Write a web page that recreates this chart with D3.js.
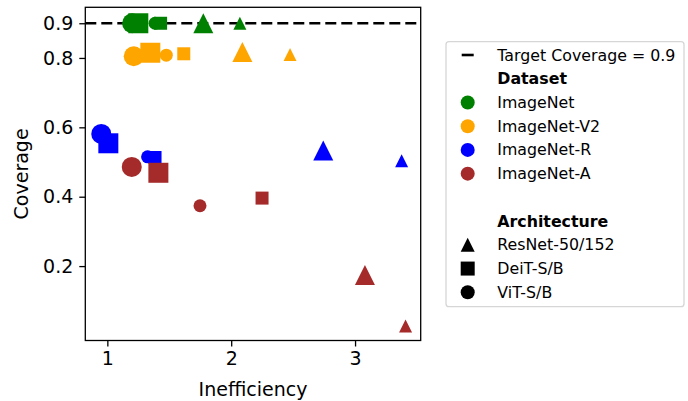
<!DOCTYPE html>
<html>
<head>
<meta charset="utf-8">
<script src="https://cdn.jsdelivr.net/npm/d3@7"></script>
<style>
  body { margin: 0; background: white; }
  text { font-family: "DejaVu Sans", sans-serif; fill: black; }
</style>
</head>
<body>
<div id="graph"></div>
<script>
// data
const datasets = ["ImageNet", "ImageNet-V2", "ImageNet-R", "ImageNet-A"]
const colors = ["green", "orange", "blue", "brown"]
const archs = ["ResNet-50/152", "DeiT-S/B", "ViT-S/B"]
const shapes = ["triangle", "square", "circle"]
const target = 0.9
const xTicks = [1, 2, 3]
const yTicks = [0.2, 0.4, 0.6, 0.8, 0.9]

// one row per model: dataset index, arch index, big (1) or small (0)
const pointDataset = [0,0,0,0,0,0, 1,1,1,1,1,1, 2,2,2,2,2,2, 3,3,3,3,3,3]
const pointArch    = [2,1,2,1,0,0, 2,1,2,1,0,0, 2,1,2,1,0,0, 2,1,2,1,0,0]
const pointBig     = [1,1,0,0,1,0, 1,1,0,0,1,0, 1,1,0,0,1,0, 1,1,0,0,1,0]
const inefficiency = [1.20, 1.25, 1.385, 1.43, 1.775, 2.07,
                      1.213, 1.347, 1.476, 1.617, 2.09, 2.475,
                      0.951, 1.008, 1.325, 1.385, 2.743, 3.376,
                      1.197, 1.412, 1.748, 2.249, 3.08, 3.408]
const coverage     = [0.90, 0.90, 0.90, 0.90, 0.90, 0.90,
                      0.805, 0.815, 0.808, 0.812, 0.817, 0.81,
                      0.581, 0.554, 0.515, 0.513, 0.533, 0.504,
                      0.486, 0.469, 0.374, 0.396, 0.174, 0.027]

const points = inefficiency.map((v, i) => ({
  x: v, y: coverage[i],
  color: colors[pointDataset[i]],
  shape: shapes[pointArch[i]],
  big: pointBig[i]
}))

const W = 688, H = 401
const plot = {left: 85.3, right: 420.7, top: 7.3, bottom: 340.5}

const svg = d3.select("#graph")
  .append("svg")
  .attr("width", W)
  .attr("height", H)

// scales
const x = d3.scaleLinear()
  .domain([0.822, 3.53])
  .range([plot.left, plot.right])

const y = d3.scaleLinear()
  .domain([-0.0145, 0.946])
  .range([plot.bottom, plot.top])

// marker path, matplotlib style (triangle as tall as it is wide)
const shapePath = (shape, s) => {
  const h = s / 2
  if (shape === "square") return `M${-h},${-h}H${h}V${h}H${-h}Z`
  if (shape === "triangle") return `M0,${-h}L${h},${h}L${-h},${h}Z`
  return d3.symbol(d3.symbolCircle, Math.PI * h * h)()
}

// target line
svg.append("line")
  .attr("x1", plot.left)
  .attr("x2", plot.right)
  .attr("y1", y(target))
  .attr("y2", y(target))
  .attr("stroke", "black")
  .attr("stroke-width", 2.6)
  .attr("stroke-dasharray", "11,5")

// points
svg.append("g")
  .selectAll("path")
  .data(points)
  .join("path")
  .attr("transform", d => `translate(${x(d.x)},${y(d.y)})`)
  .attr("d", d => shapePath(d.shape, d.big ? 20 : 13))
  .attr("fill", d => d.color)

// frame
svg.append("rect")
  .attr("x", plot.left)
  .attr("y", plot.top)
  .attr("width", plot.right - plot.left)
  .attr("height", plot.bottom - plot.top)
  .attr("fill", "none")
  .attr("stroke", "black")
  .attr("stroke-width", 1.3)

// x axis
const xAxis = svg.append("g")
  .attr("transform", `translate(0,${plot.bottom})`)
  .call(d3.axisBottom(x).tickValues(xTicks).tickFormat(d3.format("d")).tickSize(6).tickPadding(5))
xAxis.select(".domain").remove()
xAxis.selectAll("line").attr("stroke-width", 1.3)
xAxis.selectAll("text").attr("font-size", 19).attr("font-family", "DejaVu Sans")

// y axis
const yAxis = svg.append("g")
  .attr("transform", `translate(${plot.left},0)`)
  .call(d3.axisLeft(y).tickValues(yTicks).tickFormat(d3.format(".1f")).tickSize(6).tickPadding(6))
yAxis.select(".domain").remove()
yAxis.selectAll("line").attr("stroke-width", 1.3)
yAxis.selectAll("text").attr("font-size", 19).attr("font-family", "DejaVu Sans")

// axis labels
svg.append("text")
  .attr("x", (plot.left + plot.right) / 2)
  .attr("y", 396)
  .attr("text-anchor", "middle")
  .attr("font-size", 19)
  .text("Inefficiency")

svg.append("text")
  .attr("transform", `translate(21.5,${(plot.top + plot.bottom) / 2}) rotate(-90)`)
  .attr("dy", "0.35em")
  .attr("text-anchor", "middle")
  .attr("font-size", 19)
  .text("Coverage")

// legend
const legend = svg.append("g")

legend.append("rect")
  .attr("x", 446)
  .attr("y", 41.7)
  .attr("width", 238)
  .attr("height", 265)
  .attr("rx", 3)
  .attr("fill", "white")
  .attr("stroke", "#d6d6d6")
  .attr("stroke-width", 1.3)

const rowY = i => 55 + i * 23.73
const handleX = 467.7, textX = 497.3

const legendRows = [
  {label: `Target Coverage = ${target}`, kind: "line"},
  {label: "Dataset", kind: "title"},
  ...datasets.map((d, i) => ({label: d, kind: "circle", color: colors[i]})),
  {label: "", kind: "blank"},
  {label: "Architecture", kind: "title"},
  ...archs.map((d, i) => ({label: d, kind: shapes[i], color: "black"}))
]

legendRows.forEach((r, i) => {
  if (r.kind === "line") {
    legend.append("line")
      .attr("x1", handleX - 6).attr("x2", handleX + 6)
      .attr("y1", rowY(i)).attr("y2", rowY(i))
      .attr("stroke", "black")
      .attr("stroke-width", 2.6)
  } else if (r.kind !== "title" && r.kind !== "blank") {
    legend.append("path")
      .attr("transform", `translate(${handleX},${rowY(i)})`)
      .attr("d", shapePath(r.kind, 14))
      .attr("fill", r.color)
  }
  legend.append("text")
    .attr("x", textX)
    .attr("y", rowY(i))
    .attr("dy", "0.35em")
    .attr("font-size", 15.8)
    .attr("font-weight", r.kind === "title" ? "bold" : "normal")
    .text(r.label)
})
</script>
</body>
</html>
